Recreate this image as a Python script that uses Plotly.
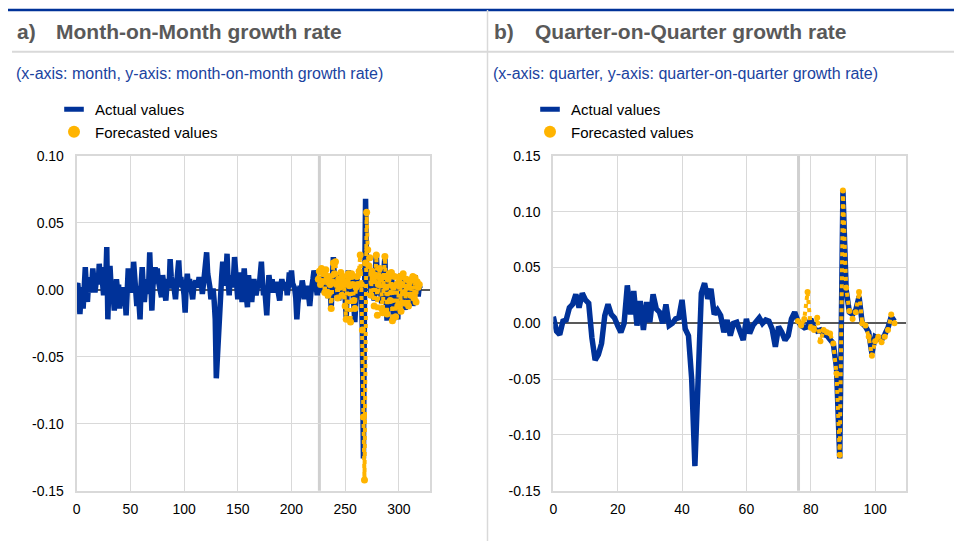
import plotly.graph_objects as go

# ---------------- data ----------------
month_actual = [
    0.003, 0.005, -0.004, -0.018, -0.005, 0.002, -0.014, 0.004, 0.017, 0.002,
    -0.009, 0.004, -0.002, 0.0095, 0.003, 0.016, 0.006, -0.002, 0.005, 0.011,
    0.004, 0.0195, 0.008, 0.017, 0.006, -0.004, 0.010, 0.006, 0.032, -0.022,
    0.005, 0.018, 0.003, 0.006, -0.004, -0.0155, -0.002, 0.008, 0.000, 0.004,
    -0.014, -0.003, -0.009, 0.002, -0.012, -0.004, -0.019, 0.004, 0.016, 0.003,
    -0.002, 0.006, 0.004, 0.021, 0.002, -0.006, -0.012, 0.003, -0.005, -0.022,
    0.004, 0.017, 0.002, -0.009, 0.001, -0.003, 0.008, 0.004, 0.028, 0.002,
    -0.0155, 0.003, 0.010, 0.017, 0.005, 0.016, 0.007, 0.003, -0.001, -0.0055,
    0.011, 0.002, -0.004, -0.008, 0.003, 0.008, 0.001, 0.023, 0.010, 0.004,
    0.006, 0.001, -0.007, 0.004, 0.010, 0.022, 0.007, 0.0095, 0.002, 0.003,
    -0.004, -0.017, 0.003, 0.012, 0.002, 0.008, 0.004, -0.002, -0.007, 0.002,
    0.005, 0.007, 0.002, 0.004, 0.0095, 0.003, 0.006, -0.003, 0.004, 0.012,
    0.018, 0.028, 0.012, 0.008, 0.002, -0.007, -0.002, 0.001, -0.008, -0.022,
    -0.066, -0.048, -0.022, -0.008, -0.002, 0.010, 0.021, 0.010, 0.003, 0.012,
    0.027, 0.006, -0.004, 0.011, 0.002, 0.006, 0.009, 0.0245, 0.012, 0.002,
    -0.007, 0.004, 0.013, 0.002, -0.009, 0.004, 0.016, 0.003, -0.004, -0.013,
    0.011, 0.002, 0.006, -0.009, 0.001, 0.008, 0.002, -0.004, 0.001, 0.0045,
    0.003, 0.010, 0.021, 0.006, -0.004, 0.002, -0.008, -0.019, -0.002, 0.011,
    0.005, 0.003, 0.008, -0.002, 0.002, 0.003, 0.006, 0.001, -0.003, -0.008,
    0.002, 0.008, 0.004, 0.003, 0.001, 0.006, -0.004, 0.002, 0.013, 0.006,
    0.0145, 0.005, 0.003, 0.001, -0.006, -0.022, -0.010, -0.002, 0.003, -0.001,
    0.007, 0.002, -0.007, 0.001, -0.004, 0.003, -0.004, -0.012, -0.003, 0.001,
    0.008, 0.0145, 0.006, 0.002, -0.004, 0.004, 0.008, -0.002, 0.010, 0.003,
    0.006, -0.003, 0.010, 0.004, -0.006, 0.008, 0.002, -0.014, 0.005, 0.0245,
    0.008, -0.004, 0.012, 0.002, -0.008, 0.006, 0.010, -0.005, 0.003, 0.007,
    -0.006, -0.0205, 0.004, 0.0145, 0.006, -0.004, 0.009, 0.002, -0.010, -0.024,
    -0.004, 0.008, 0.003, 0.006, -0.002, 0.002, -0.030, -0.126, -0.010, 0.068,
    0.012, 0.020, 0.005, 0.016, -0.006, 0.010, 0.004, -0.008, 0.012, 0.027,
    0.008, -0.004, 0.015, 0.006, -0.010, 0.004, 0.012, 0.0245, -0.006, -0.023,
    0.004, 0.010, -0.012, 0.0145, -0.004, -0.023, 0.006, -0.010, 0.002, -0.022,
    0.004, 0.009, 0.012, -0.006, 0.013, -0.004, -0.015, 0.006, 0.002, -0.008,
    0.005, -0.003, 0.008, -0.012, 0.004, 0.011, -0.002, 0.006, -0.005, 0.003, 0.001,
]
month_forecast_start = 225
month_forecast = [
    0.008, 0.014, 0.004, 0.016, 0.006, 0.012, -0.002, 0.015, 0.008, -0.004,
    0.010, 0.004, -0.014, 0.006, 0.020, 0.012, 0.021, 0.004, -0.006, 0.008,
    0.002, 0.013, -0.004, 0.010, 0.004, -0.012, -0.022, 0.006, 0.012, 0.003,
    -0.024, 0.012, 0.004, -0.008, -0.014, 0.002, 0.010, 0.004, 0.014, 0.026,
    0.004, -0.030, -0.095, -0.142, 0.020, 0.058, 0.030, 0.018, 0.024, -0.004,
    0.014, 0.008, -0.012, 0.010, 0.026, -0.019, 0.004, 0.016, 0.008, -0.014,
    -0.017, 0.010, 0.025, 0.002, -0.018, 0.008, 0.012, -0.008, 0.013, -0.023,
    0.002, 0.010, -0.020, 0.004, -0.012, 0.006, 0.010, -0.016, 0.004, 0.012,
    -0.002, -0.010, 0.008, 0.002, -0.012, 0.006, -0.004, 0.008, 0.010, -0.006,
    0.009, -0.009, 0.006, 0.002, 0.004,
]
month_split = 226

quarter_actual = [
    0.006, -0.007, -0.010, 0.002, 0.003, 0.014, 0.017, 0.026, 0.014, 0.027,
    0.021, 0.018, -0.013, -0.033, -0.028, -0.018, 0.007, 0.017, 0.008, 0.005,
    -0.002, -0.008, 0.000, 0.034, 0.008, 0.029, -0.002, 0.020, -0.006, 0.019,
    0.001, 0.026, 0.013, 0.010, 0.000, 0.017, -0.002, 0.000, 0.004, 0.005,
    0.021, -0.005, -0.011, -0.050, -0.128, -0.050, 0.027, 0.036, 0.022, 0.031,
    0.008, 0.012, 0.007, -0.008, 0.003, -0.011, 0.000, 0.001, -0.008, -0.015,
    0.004, -0.009, -0.002, 0.002, 0.005, 0.000, 0.003, 0.002, -0.005, -0.021,
    -0.003, -0.008, -0.015, -0.011, 0.004, 0.010, 0.002, -0.002, -0.004, -0.003,
    0.004, -0.004, -0.007, -0.006, -0.010, -0.011, -0.015, -0.018, -0.040, -0.121,
    0.119, 0.030, 0.010, 0.008, 0.012, 0.024, 0.000, -0.003, -0.008, -0.027,
    -0.012, -0.014, -0.015, -0.010, -0.004, 0.006, 0.002,
]
quarter_forecast_start = 76
quarter_forecast = [
    0.002, -0.002, 0.004, 0.028, -0.004, -0.006, 0.005, -0.016, -0.006, -0.008,
    -0.009, -0.018, -0.045, -0.118, 0.119, 0.032, 0.011, 0.004, 0.010, 0.028,
    0.000, -0.002, -0.012, -0.029, -0.016, -0.012, -0.017, -0.012, -0.006, 0.008,
    0.000,
]
quarter_split = 76.2

month_xticks = [0, 50, 100, 150, 200, 250, 300]
quarter_xticks = [0, 20, 40, 60, 80, 100]
month_yticks = [0.10, 0.05, 0.00, -0.05, -0.10, -0.15]
month_yticktext = ["0.10", "0.05", "0.00", "-0.05", "-0.10", "-0.15"]
quarter_yticks = [0.15, 0.10, 0.05, 0.00, -0.05, -0.10, -0.15]
quarter_yticktext = ["0.15", "0.10", "0.05", "0.00", "-0.05", "-0.10", "-0.15"]

# ---------------- style ----------------
W, H = 954, 541
BLUE = "#003299"
ORANGE = "#FFB400"
GRID = "#d9d9d9"
FONT = "Arial, Liberation Sans, sans-serif"


def px(x):
    return x / W


def py(y):
    return 1 - y / H


fig = go.Figure()

months = list(range(len(month_actual)))
fc_months = list(range(month_forecast_start, month_forecast_start + len(month_forecast)))
quarters = list(range(len(quarter_actual)))
fc_quarters = list(range(quarter_forecast_start, quarter_forecast_start + len(quarter_forecast)))

# main traces
fig.add_trace(go.Scatter(x=months, y=month_actual, mode="lines",
                         line=dict(color=BLUE, width=5.5), showlegend=False,
                         xaxis="x", yaxis="y"))
fig.add_trace(go.Scatter(x=fc_months, y=month_forecast, mode="lines+markers",
                         line=dict(color=ORANGE, width=4, dash="dot"),
                         marker=dict(color=ORANGE, size=7), showlegend=False,
                         xaxis="x", yaxis="y"))
fig.add_trace(go.Scatter(x=quarters, y=quarter_actual, mode="lines",
                         line=dict(color=BLUE, width=5.5), showlegend=False,
                         xaxis="x2", yaxis="y2"))
fig.add_trace(go.Scatter(x=fc_quarters, y=quarter_forecast, mode="lines+markers",
                         line=dict(color=ORANGE, width=4, dash="dot"),
                         marker=dict(color=ORANGE, size=6), showlegend=False,
                         xaxis="x2", yaxis="y2"))

# legend entries
for lg, xa, ya in (("legend", "x", "y"), ("legend2", "x2", "y2")):
    fig.add_trace(go.Scatter(x=[None], y=[None], mode="markers", name="Actual values",
                             marker=dict(symbol="line-ew", size=14, color=BLUE,
                                         line=dict(width=5, color=BLUE)),
                             legend=lg, xaxis=xa, yaxis=ya))
    fig.add_trace(go.Scatter(x=[None], y=[None], mode="markers", name="Forecasted values",
                             marker=dict(symbol="circle", size=12, color=ORANGE),
                             legend=lg, xaxis=xa, yaxis=ya))

axis_common = dict(showgrid=True, gridcolor=GRID, gridwidth=1, showline=True,
                   linecolor=GRID, linewidth=2, mirror=True, ticks="",
                   tickfont=dict(size=14, color="#000000", family=FONT),
                   automargin=False, fixedrange=True)

top, bottom = 156, 490.7
legend_common = dict(xanchor="left", yanchor="top", bgcolor="rgba(0,0,0,0)",
                     font=dict(size=15, color="#000000", family=FONT),
                     tracegroupgap=0, itemclick=False, itemwidth=32)
fig.update_layout(
    width=W, height=H, margin=dict(l=0, r=0, t=0, b=0),
    paper_bgcolor="white", plot_bgcolor="white",
    font=dict(family=FONT, color="#000000"),
    xaxis=dict(domain=[px(76.7), px(430)], range=[0, 329], tickvals=month_xticks,
               zeroline=False, anchor="y", ticklabelstandoff=4, **axis_common),
    yaxis=dict(domain=[py(bottom), py(top)], range=[-0.15, 0.10], tickvals=month_yticks,
               ticktext=month_yticktext, zeroline=True, zerolinecolor="#595959",
               zerolinewidth=2, anchor="x", ticklabelstandoff=8, **axis_common),
    xaxis2=dict(domain=[px(553.3), px(905.7)], range=[0, 109.5], tickvals=quarter_xticks,
                zeroline=False, anchor="y2", ticklabelstandoff=4, **axis_common),
    yaxis2=dict(domain=[py(bottom), py(top)], range=[-0.15, 0.15], tickvals=quarter_yticks,
                ticktext=quarter_yticktext, zeroline=True, zerolinecolor="#595959",
                zerolinewidth=2, anchor="x2", ticklabelstandoff=8, **axis_common),
    legend=dict(x=px(53), y=py(93), **legend_common),
    legend2=dict(x=px(529), y=py(93), **legend_common),
)

shapes = [
    dict(type="line", xref="paper", yref="paper", x0=px(8), x1=1, y0=py(10), y1=py(10),
         line=dict(color=BLUE, width=2.5)),
    dict(type="line", xref="paper", yref="paper", x0=px(12), x1=1, y0=py(51.7), y1=py(51.7),
         line=dict(color=GRID, width=2)),
    dict(type="line", xref="paper", yref="paper", x0=px(487.5), x1=px(487.5), y0=0, y1=py(10),
         line=dict(color=GRID, width=1.5)),
    dict(type="line", xref="x", yref="y domain", x0=month_split, x1=month_split, y0=0, y1=1,
         line=dict(color="#d0d0d0", width=3), layer="below"),
    dict(type="line", xref="x2", yref="y2 domain", x0=quarter_split, x1=quarter_split, y0=0, y1=1,
         line=dict(color="#d0d0d0", width=3), layer="below"),
]
fig.update_layout(shapes=shapes)

TITLE_GRAY = "#595959"
SUB_BLUE = "#1a43a0"
annotations = [
    dict(text="<b>a)</b>", x=px(15), y=py(32)),
    dict(text="<b>Month-on-Month growth rate</b>", x=px(54), y=py(32)),
    dict(text="<b>b)</b>", x=px(492), y=py(32)),
    dict(text="<b>Quarter-on-Quarter growth rate</b>", x=px(533), y=py(32)),
]
for a in annotations:
    a.update(xref="paper", yref="paper", xanchor="left", yanchor="middle", showarrow=False,
             font=dict(size=21, color=TITLE_GRAY, family=FONT))
subs = [
    dict(text="(x-axis: month, y-axis: month-on-month growth rate)", x=px(14), y=py(74)),
    dict(text="(x-axis: quarter, y-axis: quarter-on-quarter growth rate)", x=px(491), y=py(74)),
]
for a in subs:
    a.update(xref="paper", yref="paper", xanchor="left", yanchor="middle", showarrow=False,
             font=dict(size=16, color=SUB_BLUE, family=FONT))
fig.update_layout(annotations=annotations + subs)

fig.write_html("out.html", config={"displayModeBar": False},
               post_script="document.body.style.margin='0';document.body.style.overflow='hidden';")
